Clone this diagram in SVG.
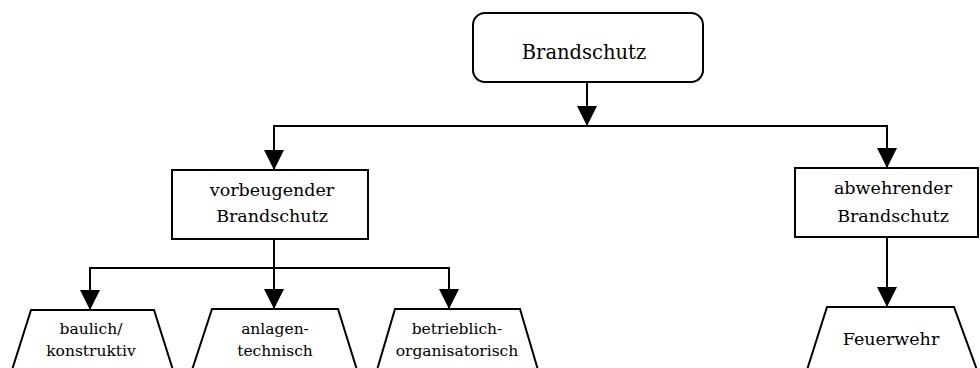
<svg xmlns="http://www.w3.org/2000/svg" width="980" height="368" viewBox="0 0 980 368">
<style>
.box{fill:#fff;stroke:#000;stroke-width:2}
.con{fill:none;stroke:#000;stroke-width:2}
text{font-family:"DejaVu Serif","Liberation Serif",serif;fill:#000;text-anchor:middle}
.t1{font-size:19.5px}
.t2{font-size:17.5px}
.t3{font-size:15.5px}
</style>
<defs>
<marker id="ah" markerUnits="userSpaceOnUse" markerWidth="20" markerHeight="20" refX="20" refY="10" orient="auto">
<path d="M0,0 L20,10 L0,20 Z" fill="#000"/>
</marker>
</defs>
<rect width="980" height="368" fill="#fff"/>
<g id="connectors">
<path class="con" d="M587,82 V126" marker-end="url(#ah)"/>
<path class="con" d="M274,170 V126 H887 V168" marker-end="url(#ah)"/>
<path class="con" d="M274,126 V170" marker-end="url(#ah)"/>
<path class="con" d="M274,239 V309" marker-end="url(#ah)"/>
<path class="con" d="M274,268 H90 V310" marker-end="url(#ah)"/>
<path class="con" d="M274,268 H449 V309" marker-end="url(#ah)"/>
<path class="con" d="M887,237 V307" marker-end="url(#ah)"/>
</g>
<g id="brandschutz">
<rect class="box" x="473" y="13" width="230" height="69" rx="12"/>
<text class="t1" x="584" y="59">Brandschutz</text>
</g>
<g id="vorbeugend">
<rect class="box" x="172" y="170" width="196" height="69"/>
<text class="t2" x="272" y="196">vorbeugender</text>
<text class="t2" x="272" y="222">Brandschutz</text>
</g>
<g id="abwehrend">
<rect class="box" x="795" y="168" width="183" height="69"/>
<text class="t2" x="893" y="194">abwehrender</text>
<text class="t2" x="893" y="222">Brandschutz</text>
</g>
<g id="baulich">
<path class="box" d="M12,370 L31,310 H154 L173,370"/>
<text class="t3" x="91" y="334">baulich/</text>
<text class="t3" x="91" y="356">konstruktiv</text>
</g>
<g id="anlagen">
<path class="box" d="M192,370 L212,309 H338 L357,370"/>
<text class="t3" x="275" y="334">anlagen-</text>
<text class="t3" x="275" y="356">technisch</text>
</g>
<g id="betrieblich">
<path class="box" d="M377,370 L395,309 H520 L538,370"/>
<text class="t3" x="457" y="334">betrieblich-</text>
<text class="t3" x="457" y="356">organisatorisch</text>
</g>
<g id="feuerwehr">
<path class="box" d="M807,370 L827,307 H954 L977,370"/>
<text class="t2" x="891" y="345">Feuerwehr</text>
</g>
</svg>
